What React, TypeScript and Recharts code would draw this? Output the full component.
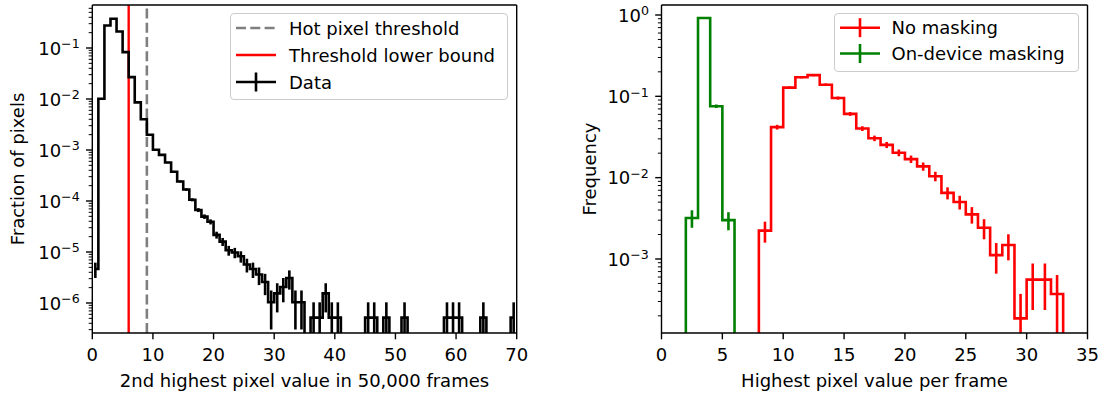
import React from 'react';
import { ComposedChart, Line, XAxis, YAxis, ErrorBar, ReferenceLine, Legend } from 'recharts';

const FONT = "'DejaVu Sans', sans-serif";
const FS = 18;

// ---------------- Left panel data ----------------
const leftBinCenters = [
  0.5, 1.5, 2.5, 3.5, 4.5, 5.5, 6.5, 7.5, 8.5, 9.5,
  10.5, 11.5, 12.5, 13.5, 14.5, 15.5, 16.5, 17.5, 18.5, 19.5,
  20.5, 21.5, 22.5, 23.5, 24.5, 25.5, 26.5, 27.5, 28.5, 29.5,
  30.5, 31.5, 32.5, 33.5, 34.5, 35.5, 36.5, 37.5, 38.5, 39.5,
  40.5, 41.5, 42.5, 43.5, 44.5, 45.5, 46.5, 47.5, 48.5, 49.5,
  50.5, 51.5, 52.5, 53.5, 54.5, 55.5, 56.5, 57.5, 58.5, 59.5,
  60.5, 61.5, 62.5, 63.5, 64.5, 65.5, 66.5, 67.5, 68.5, 69.5,
];
const leftCounts = [
  9, 19600, 536000, 726600, 409400, 161100, 52150, 16680, 7800, 3857,
  1960, 1557, 1102, 729, 469, 325, 205, 129, 96, 76,
  42, 31, 21, 19, 16, 11, 9, 7, 5, 2,
  3, 4, 6, 2, 2, 0, 1, 1, 3, 1,
  1, 0, 0, 0, 0, 1, 1, 0, 1, 0,
  0, 1, 0, 0, 0, 0, 0, 0, 1, 1,
  1, 0, 0, 0, 1, 0, 0, 0, 0, 1,
];
const leftXTicks = [0, 10, 20, 30, 40, 50, 60, 70];
const leftXDomain = [0, 70];
const leftYDomain = [2.58e-7, 0.697];
const hotPixelThreshold = 9;
const thresholdLowerBound = 6;

// ---------------- Right panel data ----------------
const rightBinCenters = [
  0.5, 1.5, 2.5, 3.5, 4.5, 5.5, 6.5, 7.5, 8.5, 9.5,
  10.5, 11.5, 12.5, 13.5, 14.5, 15.5, 16.5, 17.5, 18.5, 19.5,
  20.5, 21.5, 22.5, 23.5, 24.5, 25.5, 26.5, 27.5, 28.5, 29.5,
  30.5, 31.5, 32.5, 33.5, 34.5,
];
const noMaskingCounts = [
  0, 0, 0, 0, 0, 0, 0, 0, 12, 225,
  688, 924, 980, 748, 512, 327, 216, 164, 136, 109,
  91, 74, 56, 35, 27, 19, 13, 6, 8, 1,
  3, 3, 2, 0, 0,
];
const onDeviceCounts = [
  0, 0, 17, 4887, 402, 16, 0, 0, 0, 0,
  0, 0, 0, 0, 0, 0, 0, 0, 0, 0,
  0, 0, 0, 0, 0, 0, 0, 0, 0, 0,
  0, 0, 0, 0, 0,
];
const rightXTicks = [0, 5, 10, 15, 20, 25, 30, 35];
const rightXDomain = [0, 35];
const rightYDomain = [1.23e-4, 1.327];

// ---------------- helpers ----------------
const ZERO_FLOOR = 1e-12; // log-scale stand-in for empty bins (drawn below the axes, clipped)

function buildSeries(centers: number[], counts: number[], yMin: number) {
  const total = counts.reduce((a, b) => a + b, 0);
  return centers.map((x, i) => {
    const c = counts[i];
    const v = c / total;
    const s = Math.sqrt(c) / total;
    const y = c > 0 ? v : ZERO_FLOOR;
    const lo = c > 0 ? Math.max(v - s, yMin) : y;
    return { x, y, err: [y - lo, c > 0 ? s : 0] };
  });
}

function logTicks(min: number, max: number) {
  const out: number[] = [];
  for (let e = Math.floor(Math.log10(min)); e <= Math.ceil(Math.log10(max)); e++) {
    for (let m = 1; m <= 9; m++) {
      const v = m * Math.pow(10, e);
      if (v >= min && v <= max) out.push(v);
    }
  }
  return out;
}

const supText = (e: number) => (e < 0 ? '\u2212' + Math.abs(e) : String(e));

const LogYTick = (props: any) => {
  const { x, y, payload } = props;
  const lv = Math.log10(payload.value);
  const e = Math.round(lv);
  const major = Math.abs(lv - e) < 1e-6;
  const len = major ? 6.3 : 3.6;
  return (
    <g>
      <line x1={x} x2={x - len} y1={y} y2={y} stroke="#000" strokeWidth={major ? 1.4 : 1.0} />
      {major && (
        <text x={x - 12.6} y={y + 6.7} textAnchor="end" fontFamily={FONT} fontSize={FS} fill="#000">
          10
          <tspan dy={-6.5} fontSize={12.6}>{supText(e)}</tspan>
        </text>
      )}
    </g>
  );
};

const XTick = (props: any) => {
  const { x, y, payload } = props;
  return (
    <g>
      <line x1={x} x2={x} y1={y} y2={y + 6.3} stroke="#000" strokeWidth={1.4} />
      <text x={x} y={y + 27.5} textAnchor="middle" fontFamily={FONT} fontSize={FS} fill="#000">
        {payload.value}
      </text>
    </g>
  );
};

type LegendItem = { label: string; color: string; dash?: string; err?: boolean; width: number };

const LegendBox = ({ items, width, height, firstRow, rowGap, textX }: {
  items: LegendItem[]; width: number; height: number; firstRow: number; rowGap: number; textX: number;
}) => (
  <div
    style={{
      width, height, boxSizing: 'border-box', border: '1px solid #cccccc', borderRadius: 4,
      background: 'rgba(255,255,255,0.8)', position: 'relative',
    }}
  >
    <svg width={width} height={height} style={{ position: 'absolute', left: -1, top: -1, overflow: 'visible' }}>
      {items.map((it, i) => {
        const cy = firstRow + i * rowGap;
        return (
          <g key={it.label}>
            <line x1={6} x2={46} y1={cy} y2={cy} stroke={it.color} strokeWidth={it.width} strokeDasharray={it.dash} />
            {it.err && <line x1={26} x2={26} y1={cy - 9.5} y2={cy + 9.5} stroke={it.color} strokeWidth={it.width} />}
            <text x={textX} y={cy + 6.5} fontFamily={FONT} fontSize={FS} fill="#000">{it.label}</text>
          </g>
        );
      })}
    </svg>
  </div>
);

const leftSeries = buildSeries(leftBinCenters, leftCounts, leftYDomain[0]);
const noMaskSeries = buildSeries(rightBinCenters, noMaskingCounts, rightYDomain[0]);
const onDeviceSeries = buildSeries(rightBinCenters, onDeviceCounts, rightYDomain[0]);

const leftYTicks = logTicks(leftYDomain[0], leftYDomain[1]);
const rightYTicks = logTicks(rightYDomain[0], rightYDomain[1]);

const SPINE = { stroke: '#000', strokeWidth: 1.4 };

export default function App() {
  return (
    <div style={{ position: 'absolute', left: 0, top: 0, width: 1105, height: 396, background: '#fff' }}>
      {/* Left panel */}
      <div style={{ position: 'absolute', left: 0, top: 0 }}>
        <ComposedChart width={560} height={396} margin={{ top: 5, right: 43.3, bottom: 0, left: 0 }}>
          <XAxis
            dataKey="x" type="number" domain={leftXDomain} ticks={leftXTicks} interval={0}
            allowDataOverflow height={63} tickLine={false} tickSize={0} tickMargin={0}
            axisLine={SPINE} tick={<XTick />}
            label={() => (
              <text x={304.5} y={387} textAnchor="middle" fontFamily={FONT} fontSize={FS} fill="#000">
                2nd highest pixel value in 50,000 frames
              </text>
            )}
          />
          <YAxis
            type="number" scale="log" domain={leftYDomain} ticks={leftYTicks} interval={0}
            allowDataOverflow width={92.3} tickLine={false} tickSize={0} tickMargin={0}
            axisLine={SPINE} tick={<LogYTick />}
            label={() => (
              <text transform="translate(24,169) rotate(-90)" textAnchor="middle" fontFamily={FONT} fontSize={FS} fill="#000">
                Fraction of pixels
              </text>
            )}
          />
          <ReferenceLine x={hotPixelThreshold} stroke="#7f7f7f" strokeWidth={2.6} strokeDasharray="10 4.3" />
          <ReferenceLine x={thresholdLowerBound} stroke="#ff0000" strokeWidth={2.4} />
          <Line
            data={leftSeries} dataKey="y" type="step" stroke="#000" strokeWidth={2.6}
            dot={false} activeDot={false} isAnimationActive={false}
          >
            <ErrorBar dataKey="err" direction="y" width={0} stroke="#000" strokeWidth={2.6} />
          </Line>
          {/* top and right spines */}
          <ReferenceLine y={leftYDomain[1]} stroke="#000" strokeWidth={1.4} />
          <ReferenceLine x={leftXDomain[1]} stroke="#000" strokeWidth={1.4} />
          <Legend
            layout="horizontal" verticalAlign="middle" align="center"
            wrapperStyle={{ position: 'absolute', left: 230, top: 13, width: 278, height: 87 }}
            content={() => (
              <LegendBox
                width={278} height={87} firstRow={15} rowGap={27} textX={59}
                items={[
                  { label: 'Hot pixel threshold', color: '#7f7f7f', dash: '10 4.3', width: 2.6 },
                  { label: 'Threshold lower bound', color: '#ff0000', width: 2.6 },
                  { label: 'Data', color: '#000', err: true, width: 2.6 },
                ]}
              />
            )}
          />
        </ComposedChart>
      </div>

      {/* Right panel */}
      <div style={{ position: 'absolute', left: 560, top: 0 }}>
        <ComposedChart width={545} height={396} margin={{ top: 5, right: 17.5, bottom: 0, left: 0 }}>
          <XAxis
            dataKey="x" type="number" domain={rightXDomain} ticks={rightXTicks} interval={0}
            allowDataOverflow height={63} tickLine={false} tickSize={0} tickMargin={0}
            axisLine={SPINE} tick={<XTick />}
            label={() => (
              <text x={314.5} y={387} textAnchor="middle" fontFamily={FONT} fontSize={FS} fill="#000">
                Highest pixel value per frame
              </text>
            )}
          />
          <YAxis
            type="number" scale="log" domain={rightYDomain} ticks={rightYTicks} interval={0}
            allowDataOverflow width={101.5} tickLine={false} tickSize={0} tickMargin={0}
            axisLine={SPINE} tick={<LogYTick />}
            label={() => (
              <text transform="translate(36,169) rotate(-90)" textAnchor="middle" fontFamily={FONT} fontSize={FS} fill="#000">
                Frequency
              </text>
            )}
          />
          <Line
            data={noMaskSeries} dataKey="y" type="step" stroke="#ff0000" strokeWidth={2.6}
            dot={false} activeDot={false} isAnimationActive={false} name="No masking"
          >
            <ErrorBar dataKey="err" direction="y" width={0} stroke="#ff0000" strokeWidth={2.6} />
          </Line>
          <Line
            data={onDeviceSeries} dataKey="y" type="step" stroke="#008000" strokeWidth={2.6}
            dot={false} activeDot={false} isAnimationActive={false} name="On-device masking"
          >
            <ErrorBar dataKey="err" direction="y" width={0} stroke="#008000" strokeWidth={2.6} />
          </Line>
          {/* top and right spines */}
          <ReferenceLine y={rightYDomain[1]} stroke="#000" strokeWidth={1.4} />
          <ReferenceLine x={rightXDomain[1]} stroke="#000" strokeWidth={1.4} />
          <Legend
            layout="horizontal" verticalAlign="middle" align="center"
            wrapperStyle={{ position: 'absolute', left: 273.5, top: 13, width: 245.5, height: 59 }}
            content={() => (
              <LegendBox
                width={245.5} height={59} firstRow={14.7} rowGap={25.8} textX={57.5}
                items={[
                  { label: 'No masking', color: '#ff0000', err: true, width: 2.6 },
                  { label: 'On-device masking', color: '#008000', err: true, width: 2.6 },
                ]}
              />
            )}
          />
        </ComposedChart>
      </div>
    </div>
  );
}
